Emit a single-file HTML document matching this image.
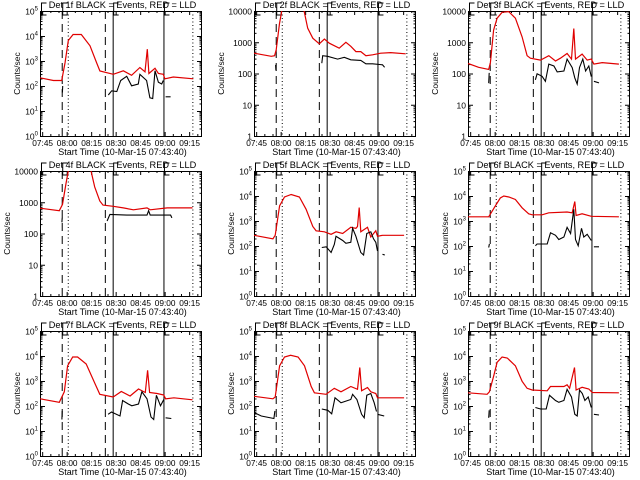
<!DOCTYPE html>
<html><head><meta charset="utf-8"><style>
html,body{margin:0;padding:0;background:#fff;}
svg{display:block;}
text{font-family:"Liberation Sans",sans-serif;fill:#000;}
</style></head><body>
<svg id="chart" width="640" height="480" viewBox="0 0 640 480" xmlns="http://www.w3.org/2000/svg">
<rect width="640" height="480" fill="#fff"/>
</svg>
<script>
// ---- data (minutes since 07:43:40, log10 counts/sec) ----
const detectors = ["1f","2f","3f","4f","5f","6f","7f","8f","9f"];
const plainAxis = [false,true,true,true,false,false,false,false,false];
const xTickLabels = ["07:45","08:00","08:15","08:30","08:45","09:00","09:15"];
const xTickMinutes = [1.33,16.33,31.33,46.33,61.33,76.33,91.33];
const dashedLines = [13.3,39.7];
const dottedLines = [17.0,93.3];
const solidLines = [44.5,75.6];

const red1T=[0,8.2,13.3,15.3,17.3,20.3,25.3,30.6,34.7,36.7,44.9,51,56.1,61.2,64.3,65.7,66.7,70.4,72.5,75.5,76.5,81.6,93.9];
const red1V=[2.33,2.22,2.22,2.92,3.82,4.06,4.06,3.61,2.92,2.6,2.47,2.61,2.43,2.74,2.57,3.47,2.5,2.71,2.5,2.47,2.29,2.36,2.29];
const blk1T=[[13.7,13.9],[41.8,43.9,47,49.4,53.1,56.1,60.2,61.2,65.3,67.3,69,70.4,72.5,74.5,75.5],[76.9,80]];
const blk1V=[[1.74,2.0],[1.64,1.81,1.78,2.22,2.39,2.01,2.08,2.47,2.22,1.53,1.5,2.61,2.15,2.08,2.22],[1.57,1.57]];

const red2T=[0,10.6,12.6,13.6,15.6,17.7,29.9,32.9,36,40,43.1,46.1,52.2,56.3,59.3,62.4,65.4,68.5,72.6,77.6,83.7,92.9];
const red2V=[2.65,2.55,2.57,2.76,3.6,4.2,4.2,3.45,3.13,2.95,3.1,2.97,2.81,3.0,2.87,2.7,2.7,2.57,2.6,2.65,2.67,2.63];
const blk2T=[[13.2,13.4],[41.5,42.1,45.1,51.2,55.3,59.3,65.4,68.5,72.6,78.7,80]];
const blk2V=[[2.28,2.1],[2.33,2.57,2.55,2.46,2.52,2.44,2.42,2.31,2.31,2.28,2.2]];

const red3T=[0,6.5,12.7,13.7,15.7,17.8,20.9,24.9,29,33.1,36.2,38.2,44.4,49.5,53.6,56.6,60.7,63.4,64.8,65.8,69.9,73,75.5,77.1,82.2,92.4];
const red3V=[2.32,2.2,2.13,2.35,3.39,3.77,3.96,3.98,3.77,3.17,2.57,2.49,2.43,2.57,2.4,2.49,2.64,2.46,3.44,2.46,2.62,2.43,2.46,2.3,2.35,2.3];
const blk3T=[[12.7,13.0],[41.3,42.3,45.4,47.4,49.5,52.6,54.6,58.7,60.7,63.8,65.4,66.9,68.3,70.3,72,74,75.5],[77.1,80.2]];
const blk3V=[[1.69,2.02],[1.8,1.99,1.91,1.75,2.3,2.24,2.05,2.08,2.46,2.19,1.86,1.66,2.19,2.46,2.08,2.24,1.9],[1.75,1.7]];

const red4T=[0,11.8,13.8,15.9,18,30.4,33.5,36.6,38.6,44.8,51,57.2,65.5,67.5,77.9,93.4];
const red4V=[2.81,2.73,2.93,3.6,4.2,4.2,3.49,3.04,2.91,2.87,2.82,2.76,2.82,2.76,2.82,2.82];
const blk4T=[[13.4,13.6],[41.1,42.8,53.1,65.5,66.5,67.5,80,80.8]];
const blk4V=[[2.36,2.5],[2.4,2.61,2.59,2.59,2.73,2.59,2.59,2.5]];

const red5T=[0,11.6,13,15.7,18.7,22.8,27.8,31.9,36,38,43.1,47.2,50.3,54.3,59.3,62.4,63.4,64.4,65.4,69.5,71.5,74.6,75.6,78.7,91.9];
const red5V=[2.43,2.29,2.43,3.61,3.96,4.06,3.96,3.47,2.78,2.61,2.57,2.47,2.57,2.5,2.75,2.71,2.78,3.54,2.57,2.75,2.36,2.61,2.39,2.43,2.43];
const blk5T=[[41.5,44.2,47.2,49.2,50.2,54.3,56.3,59.3,60.4,62.4,65.4,67.1,69.1,71.5,73.2,74.6,75.6],[78.7,80.1]];
const blk5V=[[1.94,1.97,1.74,2.06,2.39,2.22,2.11,2.15,2.71,2.39,1.74,1.64,2.5,2.57,2.29,2.15,1.8],[1.67,1.64]];

const red6T=[0,12.7,16.8,19.8,21.9,25,29,33.1,37.2,39.3,45.4,49.5,60.7,63.8,65.4,66.2,69.9,75.5,92.4];
const red6V=[3.17,3.17,3.61,3.92,4.0,3.96,3.86,3.53,3.29,3.25,3.25,3.33,3.36,3.33,3.78,3.22,3.29,3.19,3.17];
const blk6T=[[12.7,13.1],[41.3,42.3,48.5,50.5,53.6,55.6,58.7,60.7,62.8,64.8,65.8,67.5,69.5,70.9,73,75.5],[77.1,80.2]];
const blk6V=[[1.94,2.08],[2.01,2.08,2.08,2.53,2.43,2.26,2.36,2.75,2.5,3.47,2.26,2.01,2.71,2.36,2.47,2.22],[1.97,1.97]];

const red7T=[0,11.8,14.9,16.9,20,23,28.3,33.5,36.6,44.8,49.8,55.2,60.3,64.5,65.9,67.1,71.7,75.8,76.9,82,93.4];
const red7V=[2.29,2.15,2.57,3.61,3.96,3.96,3.68,2.92,2.47,2.36,2.58,2.4,2.68,2.54,3.43,2.54,2.5,2.44,2.29,2.33,2.25];
const blk7T=[[13.4,13.6],[41.7,43.8,49,50.6,54.1,56.2,60.3,62.4,65.5,68,69.6,71.3,73.8,75.8],[76.9,80.4]];
const blk7V=[[1.46,1.8],[1.67,1.76,1.6,2.22,2.08,2.01,2.08,2.57,2.29,1.56,1.46,2.43,2.01,2.26],[1.53,1.5]];

const red8T=[0,11.6,13,15.7,18.7,22.4,27,30.9,35,37,44.1,49.2,53.3,59.3,63.4,64.8,65.9,69.5,71.5,74.6,75.6,91.9];
const red8V=[2.39,2.29,2.36,3.61,3.96,4.03,3.96,3.61,2.78,2.53,2.47,2.71,2.57,2.78,2.67,3.54,2.61,2.74,2.57,2.5,2.33,2.33];
const blk8T=[[0,4.5,12.2,12.8],[41.5,45.2,47.6,49.6,53.3,59.3,60.4,63,65.9,67.5,69.1,71.5,73.6,75],[75.6,79.7]];
const blk8V=[[1.74,1.6,1.5,1.8],[1.88,1.83,1.69,2.33,2.13,2.26,2.47,2.26,1.67,1.53,2.43,2.5,2.13,1.78],[1.67,1.6]];

const red9T=[0,11.7,13.1,15.7,17.8,20.9,24,29,33.1,36.2,39.3,48.5,50.5,58.7,60.7,62.2,65.2,66.2,69.9,74,76.1,92.4];
const red9V=[2.53,2.47,2.57,3.19,3.75,3.96,3.92,3.61,2.99,2.71,2.64,2.61,2.78,2.78,2.85,2.71,3.54,2.64,2.75,2.68,2.54,2.53];
const blk9T=[[12.7,13.0],[41.3,44.4,47.9,49.9,53.6,55.6,58.7,60.7,63.4,65.4,66.9,68.3,70,71.6,73.6,75.5],[77.1,80.2]];
const blk9V=[[1.53,1.83],[1.94,1.88,1.88,2.43,2.22,2.15,2.22,2.67,2.36,1.67,1.6,2.64,2.5,2.22,2.36,1.94],[1.67,1.64]];

const redT=[red1T,red2T,red3T,red4T,red5T,red6T,red7T,red8T,red9T];
const redV=[red1V,red2V,red3V,red4V,red5V,red6V,red7V,red8V,red9V];
const blkT=[blk1T,blk2T,blk3T,blk4T,blk5T,blk6T,blk7T,blk8T,blk9T];
const blkV=[blk1V,blk2V,blk3V,blk4V,blk5V,blk6V,blk7V,blk8V,blk9V];

// ---- rendering ----
const NS="http://www.w3.org/2000/svg";
const svg=document.getElementById('chart');
function mk(tag,attrs,parent){const e=document.createElementNS(NS,tag);for(const k in attrs)e.setAttribute(k,attrs[k]);(parent||svg).appendChild(e);return e;}
const PW=161, PH=125, MPX=1.633;

for(let p=0;p<9;p++){
  const col=p%3,row=Math.floor(p/3);
  const L=40+col*214,T=11+row*160;
  const ymax=plainAxis[p]?4:5;
  const xs=m=>L+m*MPX;
  const ys=v=>T+PH-(v/ymax)*PH;
  const g=mk('g',{});
  
  
  const cid='clip'+p;
  const cp=mk('clipPath',{id:cid},g);mk('rect',{x:L,y:T,width:PW,height:PH},cp);

  // title
  const tt=mk('text',{x:L+PW/2+2,y:T-3,'font-size':'9.2','text-anchor':'middle'},g);
  tt.textContent='Det '+detectors[p]+' BLACK = Events, RED = LLD';
  
  

  // frame
  const fr=mk('rect',{x:L+0.5,y:T+0.5,width:PW,height:PH,fill:'none',stroke:'#000','stroke-width':1},g);
  
  

  // y ticks
  for(let d=0;d<=ymax;d++){
    const y=ys(d);
    mk('line',{x1:L,x2:L+5,y1:y+0.5,y2:y+0.5,stroke:'#000'},g);
    mk('line',{x1:L+PW-4,x2:L+PW+1,y1:y+0.5,y2:y+0.5,stroke:'#000'},g);
    if(d<ymax){for(let k=2;k<10;k++){const yy=ys(d+Math.log10(k));
      mk('line',{x1:L,x2:L+2.5,y1:yy+0.5,y2:yy+0.5,stroke:'#000'},g);
      mk('line',{x1:L+PW-1.5,x2:L+PW+1,y1:yy+0.5,y2:yy+0.5,stroke:'#000'},g);}}
    const lb=mk('text',{x:L-2,y:y+3.5,'font-size':'8.5','text-anchor':'end'},g);
    
    
    if(plainAxis[p]){lb.textContent=String(Math.pow(10,d));}
    else{const a=mk('tspan',{},lb);a.textContent='10';const b=mk('tspan',{'font-size':'6',dy:'-4'},lb);b.textContent=String(d);}
  }
  // y title
  const yt=mk('text',{transform:'translate('+(L-(plainAxis[p]?30:20))+','+(T+PH/2)+') rotate(-90)','font-size':'8.5','text-anchor':'middle'},g);
  yt.textContent='Counts/sec';
  
  

  // x ticks
  for(let i=0;i<xTickMinutes.length;i++){
    const x=xs(xTickMinutes[i]);
    mk('line',{x1:x+0.5,x2:x+0.5,y1:T+PH+1,y2:T+PH-4,stroke:'#000'},g);
    mk('line',{x1:x+0.5,x2:x+0.5,y1:T,y2:T+4,stroke:'#000'},g);
    for(let k=1;k<3;k++){const xm=xs(xTickMinutes[i]+k*5);if(xm<L+PW){
      mk('line',{x1:xm+0.5,x2:xm+0.5,y1:T+PH+1,y2:T+PH-2,stroke:'#000'},g);
      mk('line',{x1:xm+0.5,x2:xm+0.5,y1:T,y2:T+2,stroke:'#000'},g);}}
    const xl=mk('text',{x:x+0.5,y:T+PH+10,'font-size':'8.3','text-anchor':'middle'},g);
    xl.textContent=xTickLabels[i];
    
    
  }
  const xt=mk('text',{x:L+PW/2+2,y:T+PH+19,'font-size':'9','text-anchor':'middle'},g);
  xt.textContent='Start Time (10-Mar-15 07:43:40)';
  
  

  // vertical markers
  dashedLines.forEach(m=>{const x=xs(m);const l=mk('line',{x1:x+0.5,x2:x+0.5,y1:T,y2:T+PH,stroke:'#000','stroke-dasharray':'8,5'},g);
    });
  dottedLines.forEach(m=>{const x=xs(m);const l=mk('line',{x1:x+0.5,x2:x+0.5,y1:T,y2:T+PH,stroke:'#000','stroke-dasharray':'1,2.5'},g);
    });
  solidLines.forEach(m=>{const x=xs(m);const l=mk('line',{x1:x+0.5,x2:x+0.5,y1:T,y2:T+PH,stroke:'#000'},g);
    });
  // top brackets
  [L+1.5,xs(dashedLines[0])+1,xs(solidLines[0])+1,xs(solidLines[1])+1].forEach(x=>{
    const b=mk('polyline',{points:(x+5)+','+(T-8)+' '+x+','+(T-8)+' '+x+','+(T+4)+' '+(x+5)+','+(T+4),fill:'none',stroke:'#000'},g);
    });

  // series
  const cg=mk('g',{'clip-path':'url(#'+cid+')'},g);
  const rp=redT[p].map((t,i)=>xs(t).toFixed(1)+','+ys(redV[p][i]).toFixed(1)).join(' ');
  const r=mk('polyline',{points:rp,fill:'none',stroke:'#e00000','stroke-width':1.2},cg);
  
  
  blkT[p].forEach((seg,si)=>{
    const bp=seg.map((t,i)=>xs(t).toFixed(1)+','+ys(blkV[p][si][i]).toFixed(1)).join(' ');
    const b=mk('polyline',{points:bp,fill:'none',stroke:'#000','stroke-width':1.1},cg);
    
    
  });
}
</script>
</body></html>
